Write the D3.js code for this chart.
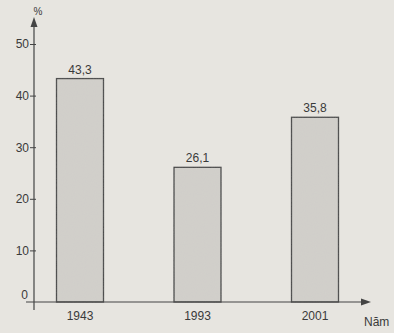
<!DOCTYPE html>
<html><head><meta charset="utf-8">
<script src="https://cdn.jsdelivr.net/npm/d3@7"></script>
<style>
html,body{margin:0;padding:0;background:#e7e5e0;}
svg{display:block;}
text{font-family:"Liberation Sans",Arial,sans-serif;fill:#3a3a3a;}
</style></head>
<body>
<script>
const categories = ["1943", "1993", "2001"];
const values = [43.3, 26.1, 35.8];
const valueLabels = ["43,3", "26,1", "35,8"];
const yTicks = [0, 10, 20, 30, 40, 50];
const yUnit = "%";
const xUnit = "Năm";

const W = 394, H = 333;
const svg = d3.select("body").append("svg").attr("width", W).attr("height", H);

svg.append("defs").append("filter").attr("id","grain")
  .call(f=>{
    f.append("feTurbulence").attr("type","fractalNoise").attr("baseFrequency",0.9).attr("numOctaves",2).attr("result","n");
    f.append("feColorMatrix").attr("in","n").attr("type","matrix")
      .attr("values","0 0 0 0 0.5  0 0 0 0 0.5  0 0 0 0 0.5  0 0 0 0.12 0").attr("result","g");
    f.append("feComposite").attr("in","g").attr("in2","SourceGraphic").attr("operator","atop");
  });

const axisX = 34, baseY = 302;
const x = d3.scaleBand().domain(categories).range([33, 362]).paddingInner(0.6).paddingOuter(0.2);
const y = d3.scaleLinear().domain([0, 50]).range([baseY, 44]);

const ink = "#444";

// bars
svg.selectAll("rect.bar").data(values).join("rect")
  .attr("class","bar")
  .attr("x",(d,i)=>x(categories[i]))
  .attr("y",d=>y(d))
  .attr("width",x.bandwidth())
  .attr("height",d=>y(0)-y(d))
  .attr("fill","#d2d0cb")
  .attr("stroke",ink).attr("stroke-width",1.3)
  .attr("filter","url(#grain)");

// value labels
svg.selectAll("text.val").data(values).join("text")
  .attr("class","val")
  .attr("x",(d,i)=>x(categories[i])+x.bandwidth()/2)
  .attr("y",d=>y(d)-5)
  .attr("text-anchor","middle").attr("font-size",12)
  .text((d,i)=>valueLabels[i]);

// y axis
const yAxis = d3.axisLeft(y).tickValues(yTicks).tickSize(5).tickPadding(2).tickFormat(d=>d);
const gy = svg.append("g").attr("transform",`translate(${axisX},0)`).call(yAxis);
gy.select(".domain").remove();
gy.selectAll(".tick line").attr("stroke",ink).attr("x2",-4).attr("x1",2);
gy.selectAll(".tick text").attr("font-size",12).attr("fill","#3a3a3a").attr("x",-5);
gy.selectAll(".tick").filter(d=>d===0).select("line").remove();
gy.selectAll(".tick").filter(d=>d===0).select("text").attr("x",-6).attr("dy","-0.3em");

svg.append("line").attr("x1",axisX).attr("x2",axisX).attr("y1",baseY+8).attr("y2",24)
  .attr("stroke",ink).attr("stroke-width",1.2);
svg.append("path").attr("d",`M${axisX},17 L${axisX-3.5},27 L${axisX+3.5},27 Z`).attr("fill",ink);
svg.append("text").attr("x",axisX+4).attr("y",15).attr("text-anchor","middle").attr("font-size",10).text(yUnit);

// x axis
const xAxis = d3.axisBottom(x).tickSize(0).tickPadding(9);
const gx = svg.append("g").attr("transform",`translate(0,${baseY})`).call(xAxis);
gx.select(".domain").remove();
gx.selectAll(".tick text").attr("font-size",12).attr("fill","#3a3a3a");

svg.append("line").attr("x1",26).attr("x2",364).attr("y1",baseY).attr("y2",baseY)
  .attr("stroke",ink).attr("stroke-width",1.2);
svg.append("path").attr("d",`M371,${baseY} L361,${baseY-3.5} L361,${baseY+3.5} Z`).attr("fill",ink);
svg.append("text").attr("x",364).attr("y",326).attr("font-size",12).text(xUnit);
</script>
</body></html>
